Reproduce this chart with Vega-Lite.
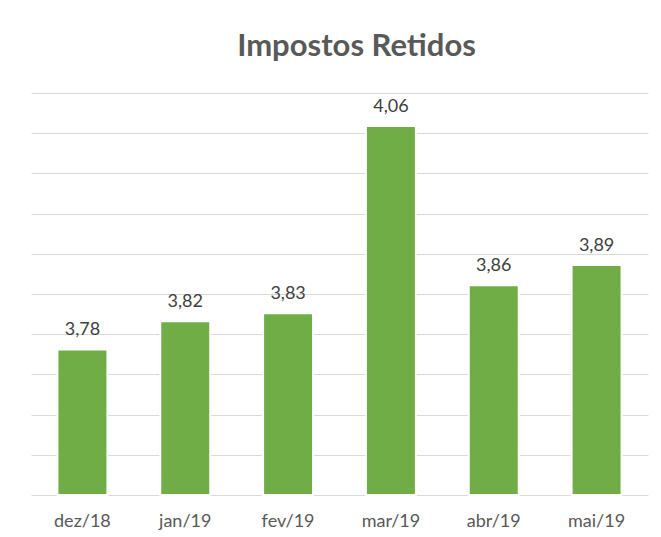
{
  "$schema": "https://vega.github.io/schema/vega-lite/v6.json",
  "autosize": "none",
  "width": 617,
  "height": 402,
  "padding": {"left": 31, "top": 93, "right": 13, "bottom": 42},
  "background": "white",
  "title": {
    "text": "Impostos Retidos",
    "font": "Lato",
    "fontSize": 31,
    "fontWeight": "bold",
    "color": "#595959",
    "anchor": "middle",
    "dx": 17,
    "offset": 30
  },
  "data": {
    "values": [
      {"mes": "dez/18", "valor": 3.781},
      {"mes": "jan/19", "valor": 3.816},
      {"mes": "fev/19", "valor": 3.826},
      {"mes": "mar/19", "valor": 4.059},
      {"mes": "abr/19", "valor": 3.861},
      {"mes": "mai/19", "valor": 3.886}
    ]
  },
  "encoding": {
    "x": {
      "field": "mes",
      "type": "nominal",
      "sort": null,
      "scale": {"paddingInner": 0.514, "paddingOuter": 0.257},
      "axis": {
        "title": null,
        "domain": false,
        "ticks": false,
        "tickSize": 0,
        "labelAngle": 0,
        "labelFont": "Lato",
        "labelFontSize": 18,
        "labelColor": "#595959",
        "labelBaseline": "alphabetic",
        "labelPadding": 31,
        "grid": false
      }
    },
    "y": {
      "field": "valor",
      "type": "quantitative",
      "scale": {"domain": [3.6, 4.1], "zero": false, "nice": false},
      "axis": {
        "title": null,
        "labels": false,
        "ticks": false,
        "domain": false,
        "grid": true,
        "gridColor": "#D9D9D9",
        "gridWidth": 1,
        "values": [3.6, 3.65, 3.7, 3.75, 3.8, 3.85, 3.9, 3.95, 4.0, 4.05, 4.1]
      }
    }
  },
  "layer": [
    {
      "mark": {"type": "bar", "color": "#70AD47", "stroke": "white", "strokeWidth": 2},
      "encoding": {"y2": {"datum": 3.6}}
    },
    {
      "mark": {
        "type": "text",
        "font": "Lato",
        "fontSize": 18,
        "color": "#404040",
        "baseline": "alphabetic",
        "dy": -14
      },
      "encoding": {
        "text": {"field": "valor", "type": "quantitative", "format": ".2f"}
      }
    }
  ],
  "config": {
    "view": {"stroke": null},
    "locale": {
      "number": {
        "decimal": ",",
        "thousands": ".",
        "grouping": [3],
        "currency": ["R$ ", ""]
      }
    }
  }
}
